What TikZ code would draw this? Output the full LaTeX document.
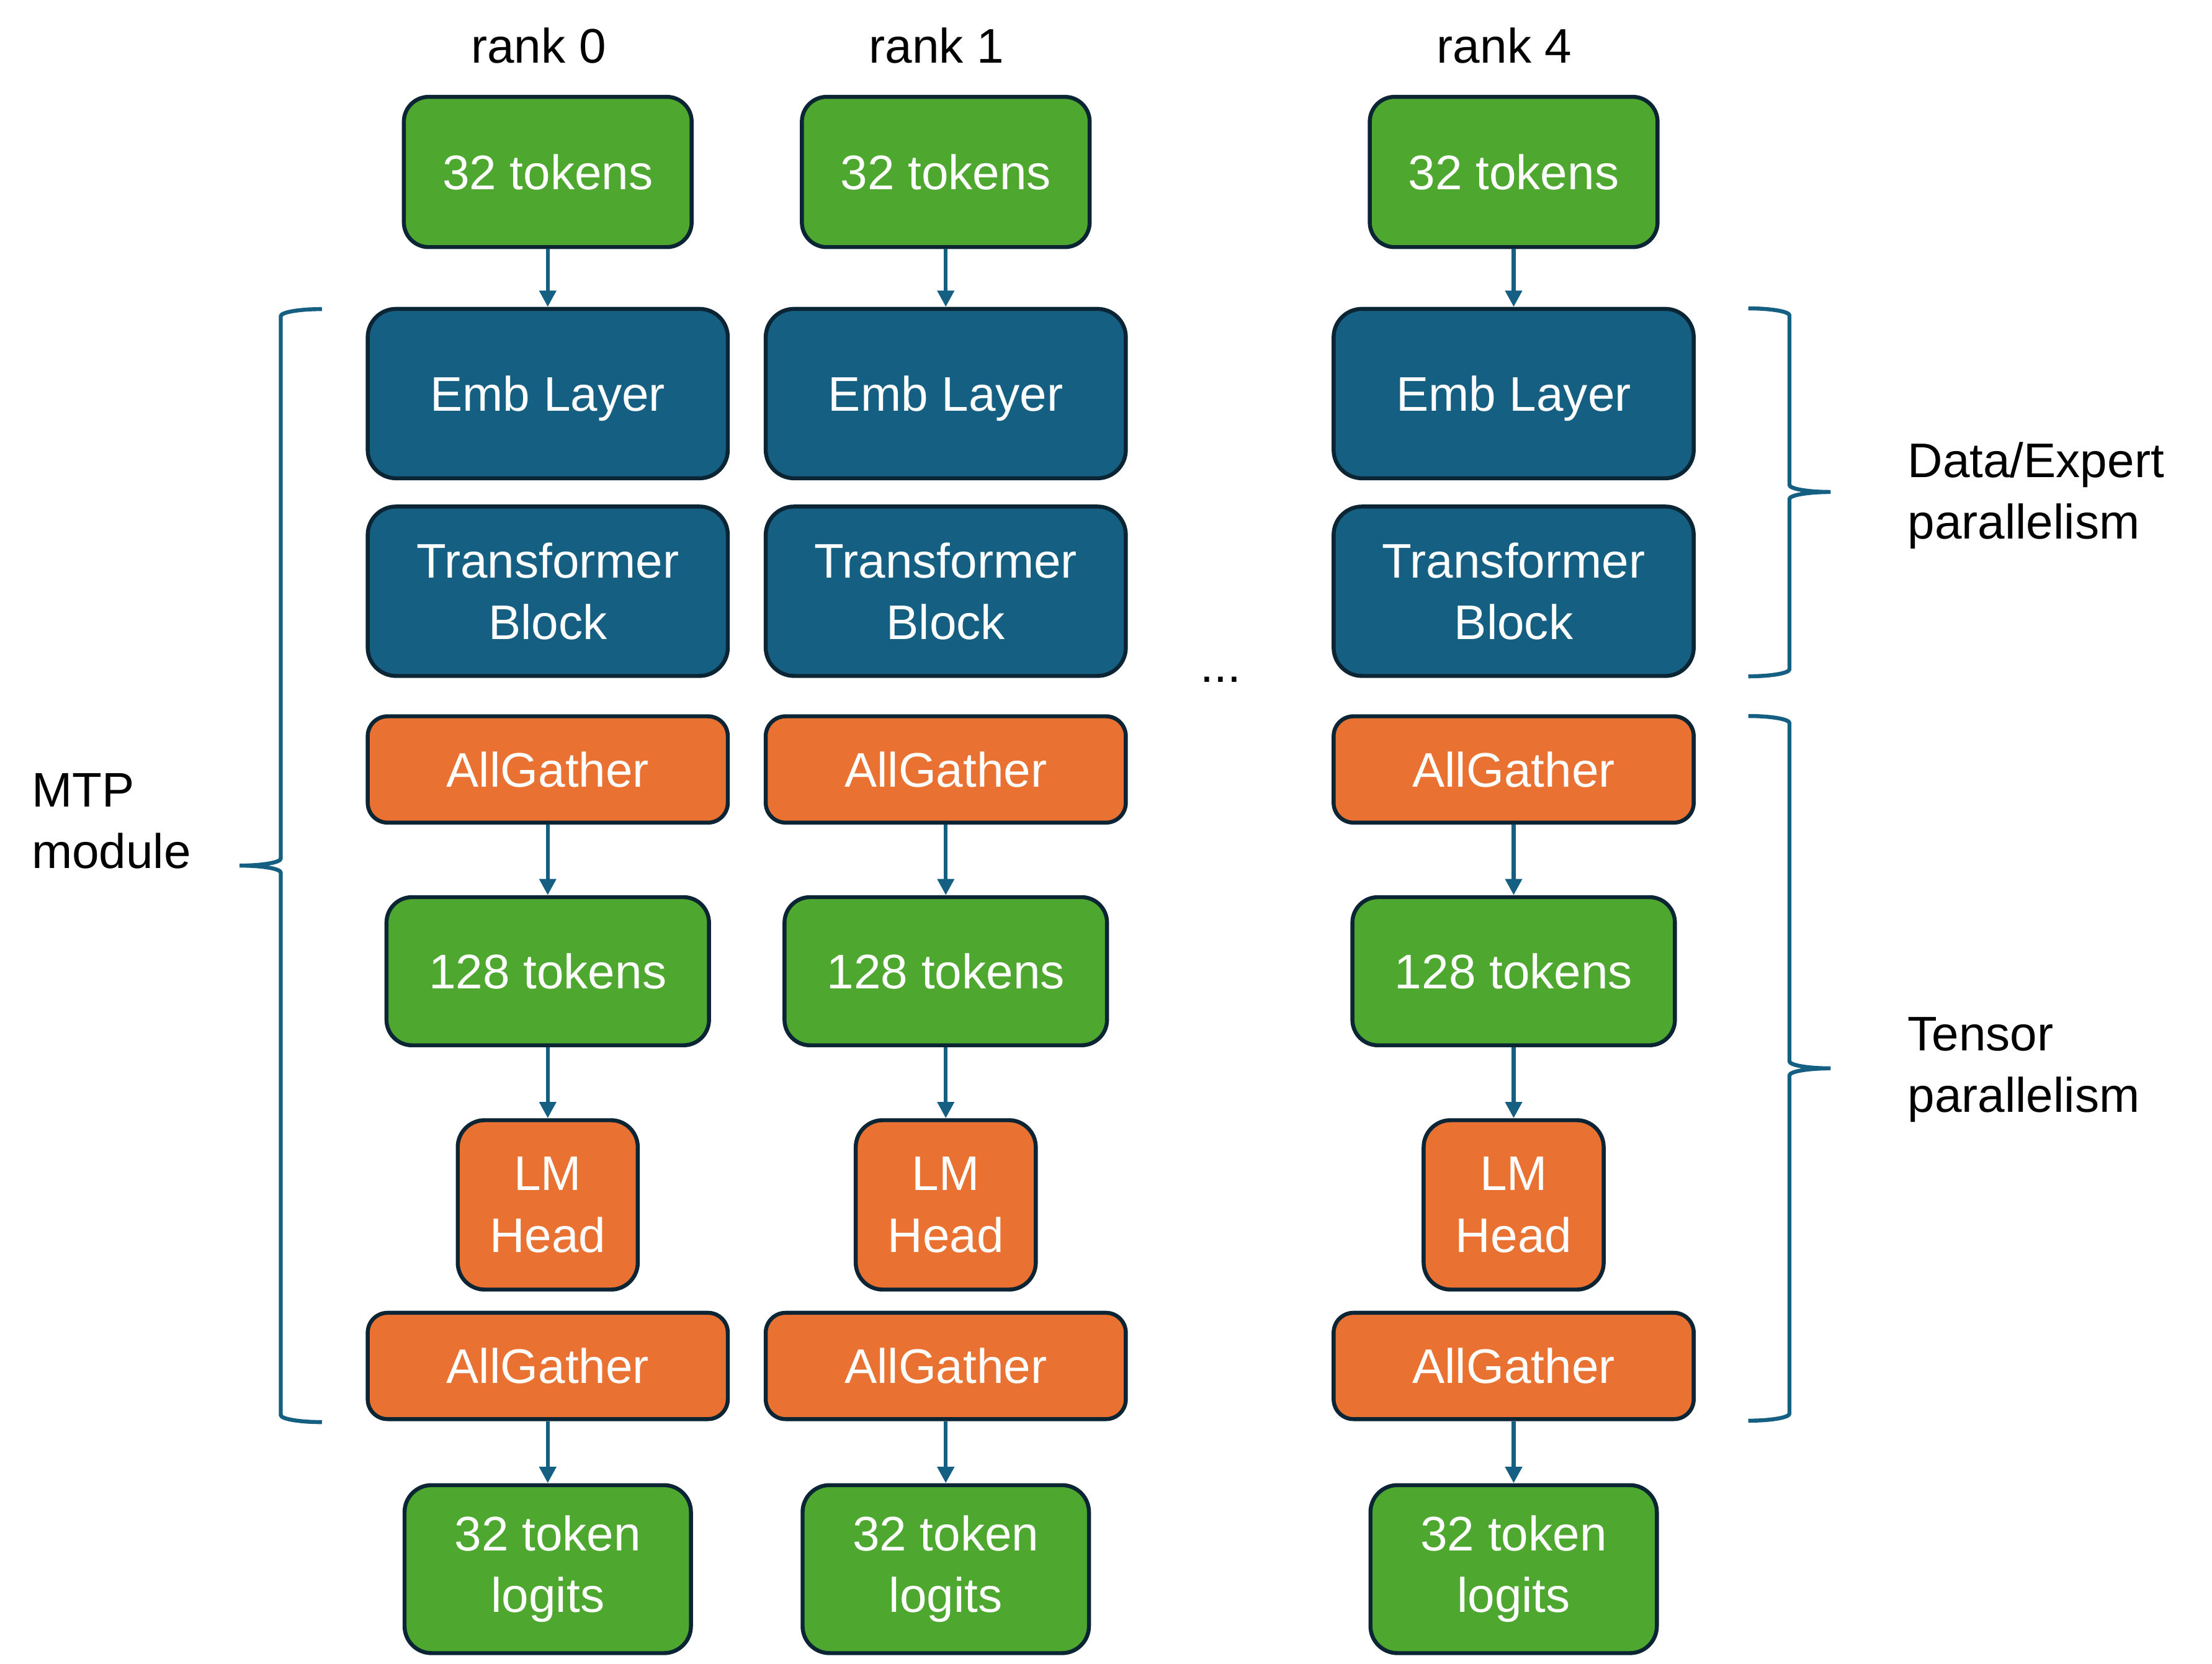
\documentclass[tikz,border=0pt]{standalone}
\usepackage{fontspec}
\setmainfont{Liberation Sans}
\usetikzlibrary{arrows.meta}
\definecolor{tokgreen}{HTML}{4EA72E}
\definecolor{layerblue}{HTML}{156082}
\definecolor{oporange}{HTML}{E97132}
\definecolor{edge}{HTML}{0B2535}
\newcommand\diagfont{\fontsize{19.5}{24.7}\selectfont}
\begin{document}
\begin{tikzpicture}[x=0.02cm,y=-0.02cm,
    box/.style={draw=edge, line width=1.6pt, text=white, align=center, font=\diagfont, inner sep=2pt},
    tokbox/.style={box, fill=tokgreen, rounded corners=0.35cm, minimum width=4.06cm, minimum height=2.12cm},
    bigtok/.style={box, fill=tokgreen, rounded corners=0.36cm, minimum width=4.55cm, minimum height=2.09cm},
    outbox/.style={box, fill=tokgreen, rounded corners=0.38cm, minimum width=4.04cm, minimum height=2.37cm},
    layer/.style={box, fill=layerblue, rounded corners=0.4cm, minimum width=5.08cm, minimum height=2.39cm},
    gather/.style={box, fill=oporange, rounded corners=0.28cm, minimum width=5.08cm, minimum height=1.5cm},
    head/.style={box, fill=oporange, rounded corners=0.38cm, minimum width=2.54cm, minimum height=2.39cm},
    note/.style={font=\diagfont, text=black, inner sep=0pt, align=left},
    flow/.style={draw=layerblue, line width=1.6pt, -{Triangle[width=0.23cm,length=0.23cm]}},
    curly/.style={draw=layerblue, line width=1.6pt}]
      \useasboundingbox (0,0) rectangle (1560,1173.2);
      \foreach \c/\x/\r in {0/386.3/0,1/667/1,2/1067.5/4} {
        \node[note, anchor=base] (rank\c) at (\x-6.5,44.3) {rank \r};
        \node[tokbox] (tok\c) at (\x,121.3) {32 tokens};
        \node[layer, text depth=0pt] (emb\c) at (\x,277.6) {Emb Layer};
        \node[layer] (tb\c) at (\x,417) {Transformer\\Block};
        \node[gather] (ag\c) at (\x,542.7) {AllGather};
        \node[bigtok] (big\c) at (\x,685) {128 tokens};
        \node[head] (lm\c) at (\x,849.8) {LM\\Head};
        \node[gather] (agb\c) at (\x,963.4) {AllGather};
        \node[outbox] (out\c) at (\x,1106.7) {32 token\\logits};
        \draw[flow] (tok\c) -- (emb\c);
        \draw[flow] (ag\c) -- (big\c);
        \draw[flow] (big\c) -- (lm\c);
        \draw[flow] (agb\c) -- (out\c);
      }
      \node[note, anchor=base] (dots) at (861,481) {...};
      \node[note, anchor=west] (mtp) at (22,579) {MTP\\module};
      \node[note, anchor=west] (dataexp) at (1345,349.6) {Data/Expert\\parallelism};
      \node[note, anchor=west] (tensor) at (1345,754.5) {Tensor\\parallelism};
      \draw[curly] (227,218) .. controls (211,218) and (198,220.2) .. (198,223)
        -- (198,605.5) .. controls (198,608.3) and (185,610.5) .. (169,610.5)
        .. controls (185,610.5) and (198,612.7) .. (198,615.5)
        -- (198,998) .. controls (198,1000.8) and (211,1003) .. (227,1003);
      \draw[curly] (1233,217.5) .. controls (1249,217.5) and (1262,219.7) .. (1262,222.5)
        -- (1262,342) .. controls (1262,344.8) and (1275,347) .. (1291,347)
        .. controls (1275,347) and (1262,349.2) .. (1262,352)
        -- (1262,472) .. controls (1262,474.8) and (1249,477) .. (1233,477);
      \draw[curly] (1233,505) .. controls (1249,505) and (1262,507.2) .. (1262,510)
        -- (1262,748.5) .. controls (1262,751.3) and (1275,753.5) .. (1291,753.5)
        .. controls (1275,753.5) and (1262,755.7) .. (1262,758.5)
        -- (1262,997) .. controls (1262,999.8) and (1249,1002) .. (1233,1002);
    \end{tikzpicture}
\end{document}
